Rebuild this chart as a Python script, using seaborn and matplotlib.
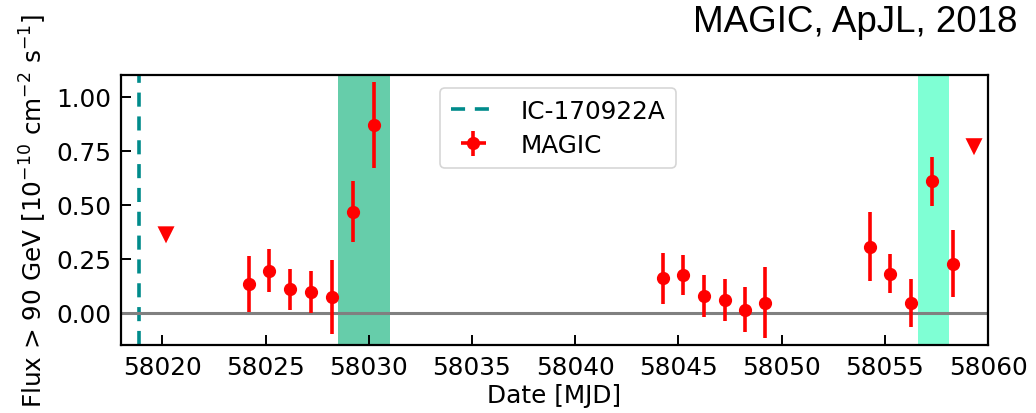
import numpy as np
import pandas as pd
import matplotlib
matplotlib.use("Agg")
import matplotlib.pyplot as plt
import seaborn as sns

# ---- data ----
mjd = [58024.22, 58025.19, 58026.20, 58027.20, 58028.23, 58029.23, 58030.26,
       58044.24, 58045.24, 58046.23, 58047.25, 58048.25, 58049.20,
       58054.27, 58055.27, 58056.27, 58057.27, 58058.30]
flux = [0.131, 0.193, 0.107, 0.096, 0.073, 0.468, 0.868,
        0.158, 0.173, 0.076, 0.057, 0.014, 0.046,
        0.305, 0.179, 0.045, 0.607, 0.226]
flux_err = [0.13, 0.10, 0.097, 0.098, 0.17, 0.14, 0.20,
            0.117, 0.093, 0.097, 0.097, 0.105, 0.165,
            0.16, 0.09, 0.11, 0.115, 0.155]
mjd_err = [0.15] * len(mjd)

ul_mjd = [58020.18, 58059.32]
ul_flux = [0.36, 0.768]

ic_mjd = 58018.87
band1 = (58028.51, 58031.02)
band2 = (58056.62, 58058.09)

xlim = (58018, 58060)
ylim = (-0.15, 1.1)
xticks = [58020, 58025, 58030, 58035, 58040, 58045, 58050, 58055, 58060]
yticks = [0.0, 0.25, 0.5, 0.75, 1.0]

# ---- plot ----
sns.set_style("ticks", {"axes.edgecolor": "black", "text.color": "black",
                        "xtick.color": "black", "ytick.color": "black",
                        "axes.labelcolor": "black"})
plt.rcParams['font.family'] = ['DejaVu Sans']

FS = 17.8

fig = plt.figure(figsize=(10.36, 4.14), dpi=100)
ax = fig.add_axes([0.1168, 0.1643, 0.8369, 0.6521])

ax.axvspan(band1[0], band1[1], color="#66CDAA", lw=0, zorder=0)
ax.axvspan(band2[0], band2[1], color="#7FFFD4", lw=0, zorder=0)
ax.axvline(ic_mjd, color="#008B8B", ls="--", lw=2.6, dashes=(3.9, 2.7),
           label="IC-170922A", zorder=1)
ax.axhline(0, color="gray", lw=2.2, zorder=2)

ax.errorbar(mjd, flux, yerr=flux_err, xerr=mjd_err, fmt="o", color="red",
            ms=8.5, elinewidth=2.6, capsize=0, label="MAGIC", zorder=3)

ul_df = pd.DataFrame({"mjd": ul_mjd, "flux": ul_flux})
sns.scatterplot(data=ul_df, x="mjd", y="flux", marker="v", s=150,
                color="red", edgecolor="none", ax=ax, zorder=3, legend=False)

ax.set_xlim(*xlim)
ax.set_ylim(*ylim)
ax.set_xticks(xticks)
ax.set_xticklabels([str(t) for t in xticks])
ax.set_yticks(yticks)
ax.set_yticklabels([f"{t:.2f}" for t in yticks])
ax.tick_params(direction="in", length=7, width=1.4, labelsize=FS,
               pad=7, bottom=True, left=True, top=False, right=False)
for sp in ax.spines.values():
    sp.set_visible(True)
    sp.set_linewidth(1.6)
    sp.set_color("black")

ax.set_xlabel("Date [MJD]", fontsize=FS, labelpad=3)
ax.set_ylabel(r"Flux > 90 GeV [10$^{-10}$ cm$^{-2}$ s$^{-1}$]", fontsize=FS,
              labelpad=5)

leg = ax.legend(loc="upper left", bbox_to_anchor=(0.368, 0.952),
                borderaxespad=0, fontsize=FS, frameon=True,
                handlelength=1.8, handletextpad=1.0, borderpad=0.45,
                labelspacing=0.4)
leg.get_frame().set_edgecolor("#cccccc")
leg.get_frame().set_linewidth(1.2)

fig.text(0.982, 0.945, "MAGIC, ApJL, 2018", ha="right", va="center",
         fontsize=26.5, family=["Liberation Sans", "DejaVu Sans"])

fig.savefig("out.png", dpi=100)
